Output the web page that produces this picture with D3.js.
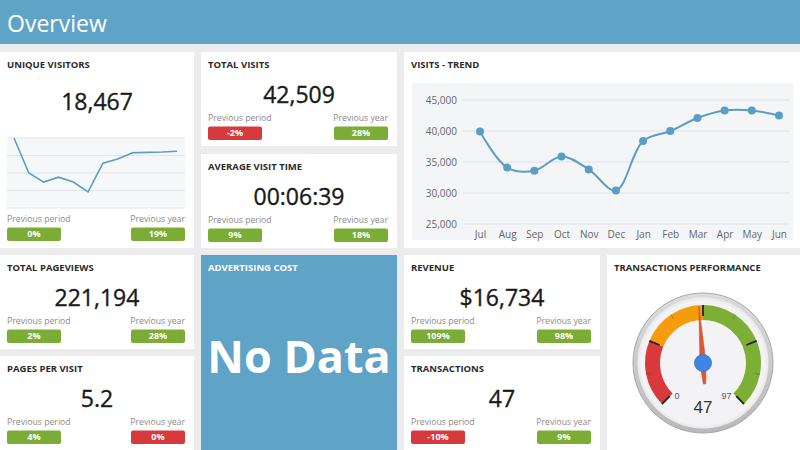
<!DOCTYPE html>
<html><head><meta charset="utf-8">
<script src="https://cdn.jsdelivr.net/npm/d3@7/dist/d3.min.js"></script>
<style>
html,body{margin:0;padding:0;background:#ececee;}
svg{display:block;font-family:"Open Sans",sans-serif;}
</style></head>
<body><svg id="c" width="800" height="450"></svg>
<script>
// ---------- DATA ----------
const pageTitle = "Overview";
const uniqueVisitorsTitle = "UNIQUE VISITORS";
const uniqueVisitorsValue = "18,467";
const uniqueVisitorsTrend = [2000, 1500, 1370, 1440, 1370, 1230, 1640, 1700, 1790, 1795, 1800, 1810];
const uniqueVisitorsGrid = [1000, 1250, 1500, 1750, 2000];
const uniqueVisitorsPrev = ["0%", "19%"];
const uniqueVisitorsGood = [true, true];

const kpiNames = ["TOTAL VISITS", "AVERAGE VISIT TIME", "TOTAL PAGEVIEWS", "PAGES PER VISIT", "REVENUE", "TRANSACTIONS"];
const kpiValues = ["42,509", "00:06:39", "221,194", "5.2", "$16,734", "47"];
const kpiPrevPeriod = ["-2%", "9%", "2%", "4%", "109%", "-10%"];
const kpiPrevPeriodGood = [false, true, true, true, true, false];
const kpiPrevYear = ["28%", "18%", "28%", "0%", "98%", "9%"];
const kpiPrevYearGood = [true, true, true, false, true, true];
const compareLabels = ["Previous period", "Previous year"];

const trendTitle = "VISITS - TREND";
const trendMonths = ["Jul", "Aug", "Sep", "Oct", "Nov", "Dec", "Jan", "Feb", "Mar", "Apr", "May", "Jun"];
const trendVisits = [39900, 34100, 33600, 35900, 33800, 30400, 38400, 40000, 42100, 43300, 43300, 42500];
const trendTicks = [25000, 30000, 35000, 40000, 45000];

const adTitle = "ADVERTISING COST";
const adText = "No Data";

const gaugeTitle = "TRANSACTIONS PERFORMANCE";
const gaugeMin = 0, gaugeMax = 97, gaugeValue = 47;
const gaugeBandStops = [0, 24.25, 48.5, 97];
const gaugeBandColors = ["#d9393b", "#f59c0c", "#7dae35"];
const gaugeMajorTicks = [0, 24.25, 48.5, 72.75, 97];
const gaugeMinorTicks = [12.125, 36.375, 60.625, 84.875];

// ---------- STYLE ----------
const BLUE = "#5fa3c7", RED = "#d63a3d", GREEN = "#7bac36", LINE = "#5a9ec4";
const svg = d3.select("#c");

// header
svg.append("rect").attr("x", 0).attr("y", 0).attr("width", 800).attr("height", 44).attr("fill", BLUE);
svg.append("text").attr("x", 7).attr("y", 32).attr("fill", "#fff")
  .style("font-size", "23px").text(pageTitle);

function panel(x, y, w, h, fill) {
  const g = svg.append("g").attr("transform", `translate(${x},${y})`);
  g.append("rect").attr("width", w).attr("height", h).attr("fill", fill || "#fff");
  return g;
}
function title(g, t, color) {
  g.append("text").attr("x", 7).attr("y", 16).attr("fill", color || "#2b2b2b")
    .style("font-size", "9.5px").style("font-weight", 700).text(t);
}
function bigNumber(g, w, y, t) {
  g.append("text").attr("x", w / 2).attr("y", y).attr("text-anchor", "middle")
    .attr("fill", "#1a1a1a").style("font-size", "23px").style("font-weight", 500)
    .style("stroke", "#1a1a1a").style("stroke-width", "0.35px").text(t);
}
function compare(g, w, labelY, vals, goods) {
  const bw = 54, bh = 13.5;
  const xs = [7, w - 9 - bw];
  vals.forEach((v, i) => {
    g.append("text").attr("x", i === 0 ? 7 : w - 9).attr("y", labelY)
      .attr("text-anchor", i === 0 ? "start" : "end")
      .attr("fill", "#8a8a8a").style("font-size", "8.7px").text(compareLabels[i]);
    g.append("rect").attr("x", xs[i]).attr("y", labelY + 5.5).attr("width", bw).attr("height", bh)
      .attr("rx", 2).attr("fill", goods[i] ? GREEN : RED);
    g.append("text").attr("x", xs[i] + bw / 2).attr("y", labelY + 5.5 + bh / 2 + 3.2)
      .attr("text-anchor", "middle").attr("fill", "#fff")
      .style("font-size", "9px").style("font-weight", 700).text(v);
  });
}

// ---------- UNIQUE VISITORS ----------
{
  const g = panel(0, 52, 194, 196);
  title(g, uniqueVisitorsTitle);
  bigNumber(g, 194, 58, uniqueVisitorsValue);
  const x = d3.scalePoint().domain(d3.range(uniqueVisitorsTrend.length)).range([14, 177]);
  const y = d3.scaleLinear().domain([1000, 2000]).range([156, 86]);
  g.append("rect").attr("x", 7).attr("y", 86).attr("width", 178).attr("height", 70).attr("fill", "#f6f7f9");
  g.selectAll(".ug").data(uniqueVisitorsGrid).join("line")
    .attr("x1", 7).attr("x2", 185).attr("y1", d => y(d)).attr("y2", d => y(d))
    .attr("stroke", "#e1e4e8").attr("stroke-width", 1);
  g.append("path").datum(uniqueVisitorsTrend)
    .attr("d", d3.line().x((d, i) => x(i)).y(d => y(d)))
    .attr("fill", "none").attr("stroke", LINE).attr("stroke-width", 1.6);
  compare(g, 194, 170, uniqueVisitorsPrev, uniqueVisitorsGood);
}

// ---------- KPI PANELS ----------
const kpiBoxes = [[201, 52], [201, 154], [0, 255], [0, 356], [404, 255], [404, 356]];
kpiNames.forEach((n, i) => {
  const [px, py] = kpiBoxes[i];
  const w = px === 0 ? 194 : 196;
  const g = panel(px, py, w, 94);
  title(g, n);
  bigNumber(g, w, 51, kpiValues[i]);
  compare(g, w, 69, [kpiPrevPeriod[i], kpiPrevYear[i]], [kpiPrevPeriodGood[i], kpiPrevYearGood[i]]);
});

// ---------- VISITS TREND ----------
{
  const g = panel(404, 52, 396, 196);
  title(g, trendTitle);
  g.append("rect").attr("x", 8).attr("y", 31).attr("width", 381).attr("height", 157).attr("fill", "#f4f5f7");
  const x = d3.scalePoint().domain(trendMonths).range([76, 375]);
  const y = d3.scaleLinear().domain([25000, 45000]).range([172, 48]);
  g.selectAll(".tg").data(trendTicks).join("line")
    .attr("x1", 59).attr("x2", 386).attr("y1", d => y(d)).attr("y2", d => y(d))
    .attr("stroke", "#dfe2e7").attr("stroke-width", 1);
  const ya = g.append("g").attr("transform", "translate(53,0)")
    .call(d3.axisLeft(y).tickValues(trendTicks).tickSize(0).tickPadding(0).tickFormat(d3.format(",")));
  ya.select(".domain").remove();
  ya.selectAll("text").attr("fill", "#666").style("font-size", "10px").style("font-family", "Open Sans");
  const xa = g.append("g").attr("transform", "translate(0,173)")
    .call(d3.axisBottom(x).tickSize(0).tickPadding(6));
  xa.select(".domain").remove();
  xa.selectAll("text").attr("fill", "#666").style("font-size", "10px").style("font-family", "Open Sans");
  g.append("path").datum(trendVisits)
    .attr("d", d3.line().x((d, i) => x(trendMonths[i])).y(d => y(d)).curve(d3.curveCatmullRom.alpha(0.5)))
    .attr("fill", "none").attr("stroke", LINE).attr("stroke-width", 2);
  g.selectAll(".pt").data(trendVisits).join("circle")
    .attr("cx", (d, i) => x(trendMonths[i])).attr("cy", d => y(d)).attr("r", 4)
    .attr("fill", LINE);
}

// ---------- ADVERTISING COST ----------
{
  const g = panel(201, 255, 196, 195, BLUE);
  title(g, adTitle, "#fff");
  g.append("text").attr("x", 98).attr("y", 118).attr("text-anchor", "middle")
    .attr("fill", "#fff").style("font-size", "45px").style("font-weight", 700).text(adText);
}

// ---------- GAUGE ----------
{
  const g = panel(607, 255, 193, 195);
  title(g, gaugeTitle);
  const cx = 96, cy = 108;
  const gg = g.append("g").attr("transform", `translate(${cx},${cy})`);
  const defs = svg.append("defs");
  const lg = defs.append("linearGradient").attr("id", "bez").attr("x1", 0).attr("y1", 0).attr("x2", 0).attr("y2", 1);
  lg.append("stop").attr("offset", "0%").attr("stop-color", "#dcdcdc");
  lg.append("stop").attr("offset", "100%").attr("stop-color", "#b9b9b9");
  gg.append("circle").attr("r", 70).attr("fill", "url(#bez)").attr("stroke", "#a9a9a9").attr("stroke-width", 1);
  gg.append("circle").attr("r", 65.5).attr("fill", "#ececec");
  gg.append("circle").attr("r", 63).attr("fill", "#f3f3f5");
  const a = d3.scaleLinear().domain([gaugeMin, gaugeMax]).range([-0.75 * Math.PI, 0.75 * Math.PI]);
  const arc = d3.arc().innerRadius(43).outerRadius(58);
  gaugeBandColors.forEach((c, i) => {
    gg.append("path").attr("d", arc({startAngle: a(gaugeBandStops[i]), endAngle: a(gaugeBandStops[i + 1])})).attr("fill", c);
  });
  const pt = (v, r) => [Math.sin(a(v)) * r, -Math.cos(a(v)) * r];
  gg.selectAll(".mj").data(gaugeMajorTicks).join("line")
    .attr("x1", d => pt(d, 47)[0]).attr("y1", d => pt(d, 47)[1])
    .attr("x2", d => pt(d, 58)[0]).attr("y2", d => pt(d, 58)[1])
    .attr("stroke", "#222").attr("stroke-width", 1.8);
  gg.selectAll(".mn").data(gaugeMinorTicks).join("line")
    .attr("x1", d => pt(d, 53)[0]).attr("y1", d => pt(d, 53)[1])
    .attr("x2", d => pt(d, 58)[0]).attr("y2", d => pt(d, 58)[1])
    .attr("stroke", "#555").attr("stroke-opacity", 0.5).attr("stroke-width", 1);
  const p0 = pt(gaugeMin, 46), p1 = pt(gaugeMax, 46);
  gg.append("text").attr("x", p0[0] + 4).attr("y", p0[1] + 3).attr("fill", "#555")
    .style("font-family", "Liberation Sans").style("font-size", "9px").text(gaugeMin);
  gg.append("text").attr("x", p1[0] - 4).attr("y", p1[1] + 3).attr("text-anchor", "end").attr("fill", "#555")
    .style("font-family", "Liberation Sans").style("font-size", "9px").text(gaugeMax);
  gg.append("text").attr("x", 0).attr("y", 50).attr("text-anchor", "middle").attr("fill", "#333")
    .style("font-family", "Liberation Sans").style("font-size", "17px").text(gaugeValue);
  // needle
  const ang = a(gaugeValue) * 180 / Math.PI;
  gg.append("path").attr("transform", `rotate(${ang})`)
    .attr("d", "M0,-57 L3,0 L1.2,21 L-1.2,21 L-3,0 Z")
    .attr("fill", "#e0572f").attr("stroke", "#c44a26").attr("stroke-width", 0.5);
  gg.append("circle").attr("r", 8.5).attr("fill", "#3f84e5").attr("stroke", "#3570c4").attr("stroke-width", 0.8);
}
</script></body></html>
